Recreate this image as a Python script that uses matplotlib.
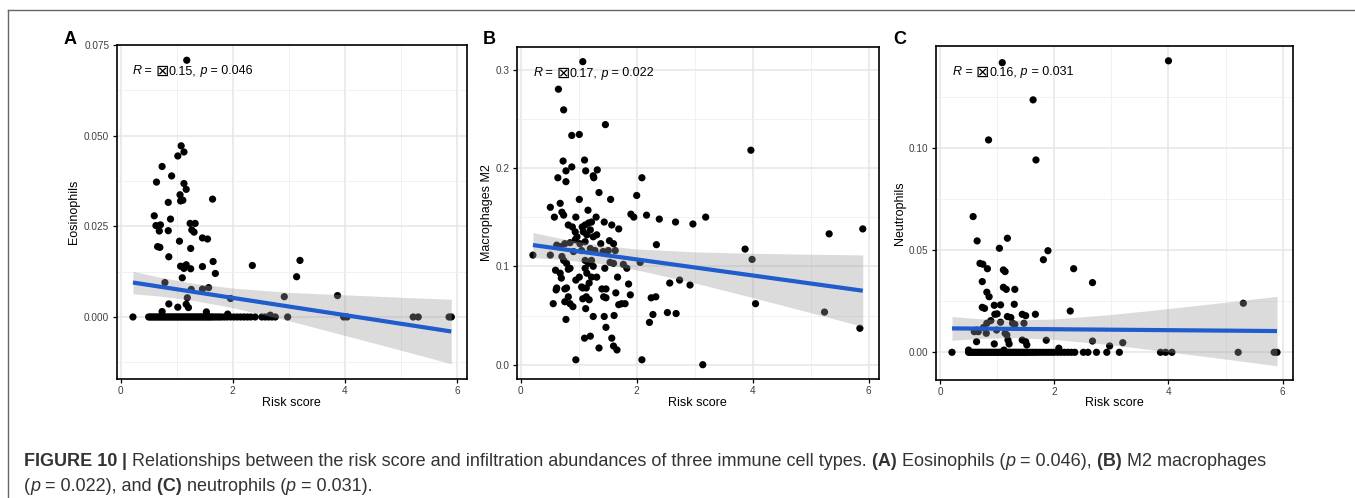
import numpy as np
import matplotlib
matplotlib.use('Agg')
import matplotlib.pyplot as plt
from matplotlib.lines import Line2D

FONT = ['Liberation Sans', 'DejaVu Sans']
plt.rcParams['font.family'] = FONT

# ---------------- data ----------------
# Panel A: Eosinophils
eos_x = [0.22, 1.18, 1.08, 1.13, 1.02, 0.74, 0.91, 0.64, 1.13, 1.17, 1.06, 1.11, 1.07, 1.64, 0.85,
         0.60, 0.89, 0.63, 0.71, 0.69, 0.85, 1.24, 1.33, 1.27, 1.31, 1.05, 1.46, 1.55, 0.66, 0.70,
         1.25, 0.86, 1.65, 2.35, 3.20, 3.14, 1.07, 1.13, 1.17, 1.25, 1.46, 1.69, 1.10, 0.79, 1.26,
         1.46, 1.57, 1.19, 1.96, 2.92, 3.87, 0.86, 1.02, 1.17, 1.21, 0.74, 1.53, 1.91, 2.67]
eos_y = [0.0, 0.0708, 0.0472, 0.0455, 0.0444, 0.0415, 0.0389, 0.0372, 0.0368, 0.0352, 0.0337, 0.0322,
         0.0320, 0.0325, 0.0316, 0.0279, 0.0270, 0.0252, 0.0254, 0.0237, 0.0238, 0.0258, 0.0258, 0.0240,
         0.0234, 0.0209, 0.0218, 0.0215, 0.0194, 0.0192, 0.0189, 0.0166, 0.0153, 0.0142, 0.0156, 0.0111,
         0.0140, 0.0134, 0.0144, 0.0133, 0.0139, 0.0120, 0.0108, 0.0095, 0.0076, 0.0077, 0.0081, 0.0053,
         0.0051, 0.0056, 0.0059, 0.0036, 0.0027, 0.0035, 0.0026, 0.0015, 0.0014, 0.0008, 0.0005]
eos_zero_x = [0.50, 0.53, 0.56, 0.59, 0.62, 0.65, 0.68, 0.71, 0.74, 0.77, 0.80, 0.83, 0.86, 0.89, 0.92,
              0.95, 0.98, 1.01, 1.04, 1.07, 1.10, 1.13, 1.16, 1.19, 1.22, 1.25, 1.28, 1.31, 1.34, 1.37,
              1.40, 1.43, 1.46, 1.49, 1.52, 1.55, 1.58, 1.61, 1.64, 1.68, 1.72, 1.76, 1.80, 1.85, 1.90,
              1.96, 2.02, 2.08, 2.14, 2.20, 2.26, 2.32, 2.40, 2.52, 2.58, 2.64, 2.70, 2.76, 2.98, 3.98,
              4.04, 5.22, 5.31, 5.86, 5.90]
eos_fit_x = [0.22, 5.90]
eos_fit_y = [0.0095, -0.0040]
eos_band_x = [0.22, 0.7, 1.3, 2.0, 3.0, 4.0, 5.0, 5.9]
eos_band_lo = [0.0064, 0.00576, 0.00458, 0.00257, -0.00101, -0.00508, -0.00916, -0.0129]
eos_band_hi = [0.0126, 0.01096, 0.00928, 0.00797, 0.00679, 0.00612, 0.00544, 0.0049]

# Panel B: Macrophages M2
mac_x = [0.21, 0.51, 1.07, 0.65, 0.74, 0.88, 1.01, 1.46, 3.97, 1.10, 0.73, 0.88, 0.78, 1.12, 1.32,
         0.64, 1.25, 1.26, 2.09, 0.78, 1.35, 2.00, 1.01, 1.55, 0.51, 0.68, 1.16, 0.71, 0.58, 0.74,
         0.95, 1.90, 1.95, 2.17, 2.39, 2.67, 2.97, 3.19, 1.44, 1.30, 1.57, 1.69, 0.82, 0.89, 0.94,
         1.06, 1.11, 1.17, 1.22, 1.08, 1.14, 1.20, 0.97, 1.25, 1.31, 0.76, 0.85, 0.94, 1.02, 1.11,
         1.38, 1.53, 1.60, 2.34, 5.32, 5.90, 3.87, 3.99, 0.62, 0.68, 0.91, 1.05, 1.20, 1.28, 1.42,
         1.51, 1.63, 0.71, 0.74, 0.79, 0.85, 1.11, 1.17, 1.22, 1.54, 1.60, 1.77, 1.83, 2.06, 0.60,
         0.68, 0.70, 0.82, 1.11, 1.14, 1.25, 1.45, 1.31, 1.67, 0.95, 1.01, 1.22, 2.57, 2.74, 2.92,
         0.61, 0.62, 0.79, 1.05, 1.07, 1.13, 1.18, 1.40, 1.47, 1.86, 0.76, 1.64, 1.89, 0.82, 0.56,
         0.76, 0.85, 0.90, 1.07, 1.13, 1.18, 1.43, 1.47, 1.69, 1.74, 1.80, 2.25, 2.33, 1.12, 4.05,
         2.53, 2.68, 5.24, 0.78, 1.25, 1.44, 1.61, 2.28, 2.22, 1.47, 1.10, 1.20, 1.57, 1.35, 1.60,
         1.66, 5.85, 0.95, 2.09, 3.14]
mac_y = [0.1114, 0.1114, 0.308, 0.280, 0.259, 0.233, 0.234, 0.244, 0.218, 0.208, 0.207, 0.201, 0.197,
         0.197, 0.198, 0.190, 0.192, 0.190, 0.190, 0.186, 0.175, 0.172, 0.168, 0.168, 0.160, 0.164,
         0.157, 0.155, 0.150, 0.152, 0.150, 0.153, 0.150, 0.152, 0.148, 0.145, 0.143, 0.150, 0.145,
         0.150, 0.142, 0.138, 0.142, 0.140, 0.135, 0.140, 0.142, 0.144, 0.145, 0.135, 0.132, 0.137,
         0.130, 0.130, 0.132, 0.123, 0.124, 0.127, 0.123, 0.125, 0.123, 0.126, 0.123, 0.122, 0.133,
         0.138, 0.1175, 0.107, 0.1215, 0.120, 0.115, 0.116, 0.118, 0.116, 0.115, 0.116, 0.116, 0.110,
         0.106, 0.103, 0.098, 0.106, 0.103, 0.106, 0.104, 0.103, 0.102, 0.098, 0.104, 0.096, 0.093,
         0.088, 0.097, 0.098, 0.093, 0.100, 0.098, 0.089, 0.089, 0.086, 0.089, 0.089, 0.083, 0.086,
         0.081, 0.076, 0.078, 0.078, 0.079, 0.078, 0.078, 0.083, 0.077, 0.077, 0.082, 0.077, 0.073,
         0.071, 0.069, 0.062, 0.064, 0.062, 0.059, 0.067, 0.069, 0.066, 0.069, 0.068, 0.061, 0.062,
         0.062, 0.068, 0.069, 0.057, 0.062, 0.053, 0.052, 0.0535, 0.046, 0.049, 0.049, 0.050, 0.051,
         0.043, 0.038, 0.027, 0.029, 0.027, 0.017, 0.019, 0.015, 0.037, 0.005, 0.005, 0.0]
mac_fit_x = [0.21, 5.90]
mac_fit_y = [0.1216, 0.0752]
mac_band_x = [0.21, 0.7, 1.35, 2.0, 3.0, 4.0, 5.0, 5.9]
mac_band_lo = [0.1088, 0.1070, 0.1030, 0.0964, 0.0831, 0.0682, 0.0529, 0.0388]
mac_band_hi = [0.1344, 0.1282, 0.1216, 0.1176, 0.1147, 0.1132, 0.1123, 0.1116]

# Panel C: Neutrophils
neu_x = [1.09, 4.00, 1.63, 0.85, 1.68, 0.58, 0.65, 1.18, 1.04, 1.89, 1.81, 0.70, 0.75, 0.83, 1.11,
         1.14, 2.34, 2.67, 0.74, 1.11, 1.16, 1.31, 0.82, 0.86, 0.74, 0.78, 0.95, 1.06, 1.30, 2.28,
         5.31, 0.96, 1.00, 1.18, 1.24, 1.44, 1.50, 1.67, 0.89, 1.06, 1.27, 1.31, 1.47, 0.82, 0.76,
         0.64, 0.60, 0.67, 0.99, 1.14, 1.17, 0.81, 1.19, 1.86, 1.44, 1.50, 0.64, 0.95, 1.21, 1.52,
         2.67, 2.97, 3.20, 2.08, 0.50, 1.12]
neu_y = [0.1417, 0.1426, 0.1235, 0.1039, 0.0941, 0.0664, 0.0545, 0.0558, 0.0509, 0.0497, 0.0453,
         0.0435, 0.0431, 0.0409, 0.0403, 0.0395, 0.0409, 0.0341, 0.0346, 0.0318, 0.0308, 0.0308,
         0.0294, 0.0272, 0.0220, 0.0215, 0.0230, 0.0232, 0.0235, 0.0202, 0.0240, 0.0186, 0.0188,
         0.0175, 0.0170, 0.0186, 0.0179, 0.0186, 0.0155, 0.0147, 0.0142, 0.0137, 0.0142, 0.0142,
         0.0121, 0.0109, 0.0101, 0.0101, 0.0109, 0.0093, 0.0085, 0.0093, 0.0060, 0.0059, 0.0060,
         0.0052, 0.0052, 0.0041, 0.0041, 0.0036, 0.0055, 0.0031, 0.0047, 0.0020, 0.0011, 0.0011]
neu_zero_x = [0.21, 0.50, 0.52, 0.55, 0.58, 0.61, 0.64, 0.67, 0.70, 0.73, 0.76, 0.79, 0.82, 0.85, 0.88,
              0.91, 0.94, 0.97, 1.00, 1.03, 1.06, 1.09, 1.12, 1.15, 1.18, 1.21, 1.24, 1.27, 1.30, 1.33,
              1.36, 1.39, 1.42, 1.45, 1.48, 1.51, 1.54, 1.58, 1.62, 1.66, 1.70, 1.75, 1.80, 1.85, 1.90,
              1.95, 2.00, 2.06, 2.12, 2.18, 2.24, 2.30, 2.36, 2.51, 2.59, 2.74, 2.92, 3.14, 3.86, 3.95,
              4.06, 5.22, 5.85, 5.90]
neu_fit_x = [0.21, 5.90]
neu_fit_y = [0.0117, 0.0104]
neu_band_x = [0.21, 0.7, 1.3, 2.0, 3.0, 4.0, 5.0, 5.9]
neu_band_lo = [0.0059, 0.0068, 0.0072, 0.0063, 0.0037, 0.0002, -0.0033, -0.0066]
neu_band_hi = [0.0175, 0.0164, 0.0158, 0.0163, 0.0185, 0.0214, 0.0245, 0.0274]

x_ticks = [0, 2, 4, 6]
x_tick_labels = ['0', '2', '4', '6']
stats = [('0.15', '0.046'), ('0.17', '0.022'), ('0.16', '0.031')]
MISSING_GLYPH = '\u22a0'

# ---------------- figure ----------------
W, H = 1355, 498
fig = plt.figure(figsize=(W / 100, H / 100), dpi=100)
fig.patch.set_facecolor('white')
renderer = fig.canvas.get_renderer()


def fx(px):
    return px / W


def fy(py):
    return 1 - py / H


def rich_text(x_px, base_px, parts, size, color):
    """Draw text pieces one after another on a common baseline."""
    x = x_px
    for part in parts:
        txt, style = part[0], part[1]
        sz = part[2] if len(part) > 2 else size
        dy = part[3] if len(part) > 3 else 0.0
        props = dict(fontsize=sz, color=color, family=FONT)
        if 'b' in style:
            props['fontweight'] = 'bold'
        if 'i' in style:
            props['fontstyle'] = 'italic'
        t = fig.text(fx(x), fy(base_px + dy), txt, ha='left', va='baseline', **props)
        x += t.get_window_extent(renderer).width


panels = [
    dict(rect=(116.7, 45, 467, 379), x=eos_x + eos_zero_x, y=eos_y + [0.0] * len(eos_zero_x),
         fx_=eos_fit_x, fy_=eos_fit_y, bx=eos_band_x, blo=eos_band_lo, bhi=eos_band_hi,
         ylim=(-0.0171, 0.0750), yt=[0.0, 0.025, 0.05, 0.075], ytl=['0.000', '0.025', '0.050', '0.075'],
         ym=[-0.0125, 0.0125, 0.0375, 0.0625], ylabel='Eosinophils', ylab_x=74,
         letter='A', letter_x=64, stat_x=132.3, stat_base=74.0),
    dict(rect=(516.7, 46.7, 879, 379), x=mac_x, y=mac_y,
         fx_=mac_fit_x, fy_=mac_fit_y, bx=mac_band_x, blo=mac_band_lo, bhi=mac_band_hi,
         ylim=(-0.01453, 0.3232), yt=[0.0, 0.1, 0.2, 0.3], ytl=['0.0', '0.1', '0.2', '0.3'],
         ym=[0.05, 0.15, 0.25], ylabel='Macrophages M2', ylab_x=487,
         letter='B', letter_x=483, stat_x=533.3, stat_base=76.5),
    dict(rect=(936, 45.7, 1293, 380), x=neu_x + neu_zero_x, y=neu_y + [0.0] * len(neu_zero_x),
         fx_=neu_fit_x, fy_=neu_fit_y, bx=neu_band_x, blo=neu_band_lo, bhi=neu_band_hi,
         ylim=(-0.01355, 0.150), yt=[0.0, 0.05, 0.10], ytl=['0.00', '0.05', '0.10'],
         ym=[0.025, 0.075, 0.125], ylabel='Neutrophils', ylab_x=900,
         letter='C', letter_x=893, stat_x=952.7, stat_base=75.3),
]

for p, (rval, pval) in zip(panels, stats):
    l, t, r, b = p['rect']
    ax = fig.add_axes([fx(l), fy(b), fx(r - l), (b - t) / H])
    ax.set_facecolor('white')
    ax.set_xlim(-0.07, 6.18)
    ax.set_ylim(*p['ylim'])
    ax.set_xticks(x_ticks)
    ax.set_xticklabels(x_tick_labels)
    ax.set_xticks([1, 3, 5], minor=True)
    ax.set_yticks(p['yt'])
    ax.set_yticklabels(p['ytl'])
    ax.set_yticks(p['ym'], minor=True)
    ax.grid(True, which='major', color='#e6e6e6', lw=1.1, zorder=0)
    ax.grid(True, which='minor', color='#efefef', lw=0.6, zorder=0)
    ax.set_axisbelow(True)
    ax.tick_params(which='major', length=2.8, width=0.9, color='black', labelsize=7.2,
                   labelcolor='#404040', pad=2.5)
    ax.tick_params(which='minor', length=0)
    for s in ax.spines.values():
        s.set_linewidth(1.2)
        s.set_color('black')
    ax.scatter(p['x'], p['y'], s=27, color='black', edgecolors='none', zorder=2)
    ax.fill_between(p['bx'], p['blo'], p['bhi'], color='#999999', alpha=0.35, lw=0, zorder=3)
    ax.plot(p['fx_'], p['fy_'], color='#1f5ccc', lw=3.0, solid_capstyle='butt', zorder=4)
    ax.set_xlabel('Risk score', fontsize=9, color='black')
    ax.xaxis.set_label_coords(0.5, (b - 402.5) / (b - t))
    ax.xaxis.label.set_va('center')
    ax.set_ylabel(p['ylabel'], fontsize=9, color='black')
    ax.yaxis.set_label_coords((p['ylab_x'] - l) / (r - l), 0.5)
    ax.yaxis.label.set_va('center')
    fig.text(fx(p['letter_x']), fy(40), p['letter'], fontsize=13, fontweight='bold',
             ha='left', va='center', color='black')
    rich_text(p['stat_x'], p['stat_base'],
              [('R', 'i'), (' = ', ''), (MISSING_GLYPH, '', 11.5, 1.5), (rval + ',', ''),
               (' p', 'i'), (' = ' + pval, '')], 9, 'black')

# frame lines of the figure block
fig.add_artist(Line2D([fx(8), 1.0], [fy(10), fy(10)], color='#666666', lw=1.0, transform=fig.transFigure))
fig.add_artist(Line2D([fx(8), fx(8)], [fy(10), 0.0], color='#666666', lw=1.0, transform=fig.transFigure))

# caption
cap_col = '#333333'
line1 = [('FIGURE 10', 'b'), (' |', 'b'),
         (' Relationships between the risk score and infiltration abundances of three immune cell types.', ''),
         (' (A)', 'b'), (' Eosinophils (', ''), ('p', 'i'), (' = 0.046),', ''), (' (B)', 'b'),
         (' M2 macrophages', '')]
line2 = [('(', ''), ('p', 'i'), (' = 0.022), and', ''), (' (C)', 'b'), (' neutrophils (', ''),
         ('p', 'i'), (' = 0.031).', '')]
rich_text(24, 465.5, line1, 13, cap_col)
rich_text(24, 490.5, line2, 13, cap_col)

fig.savefig('out.png', dpi=100, facecolor='white')
